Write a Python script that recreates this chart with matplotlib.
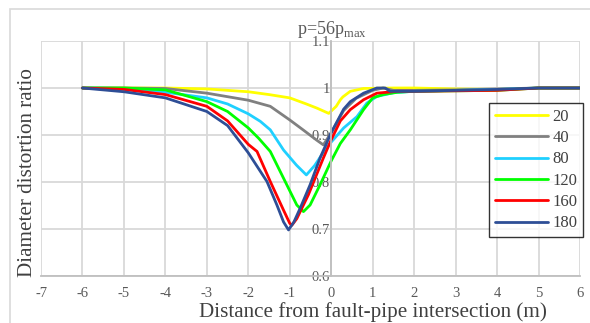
import matplotlib
matplotlib.use("Agg")
import matplotlib.pyplot as plt
from matplotlib.patches import Rectangle

plt.rcParams['font.family'] = ['Liberation Serif', 'DejaVu Serif']
plt.rcParams['mathtext.fontset'] = 'custom'
plt.rcParams['mathtext.rm'] = 'Liberation Serif'

title_text = "p=56p$_{\\mathregular{max}}$"
x_label = "Distance from fault-pipe intersection (m)"
y_label = "Diameter distortion ratio"
x_ticks = [-7, -6, -5, -4, -3, -2, -1, 0, 1, 2, 3, 4, 5, 6]
y_ticks = [0.6, 0.7, 0.8, 0.9, 1.0, 1.1]
y_tick_labels = ["0.6", "0.7", "0.8", "0.9", "1", "1.1"]

labels = ["20", "40", "80", "120", "160", "180"]
colors = ["#FFFF00", "#808080", "#1FD0FF", "#00FF00", "#FF0000", "#2E4E96"]

x20 = [-6, -5, -4, -3, -2, -1.5, -1, -0.6, -0.34, -0.06, 0.12, 0.22, 0.28, 0.46, 0.78, 1.5, 2, 3, 4, 5, 6]
y20 = [1.0, 1.0, 1.0, 0.998, 0.992, 0.986, 0.979, 0.966, 0.957, 0.946, 0.961, 0.975, 0.981, 0.993, 0.999, 1.0, 1.0, 0.998, 0.997, 1.0, 1.0]

x40 = [-6, -5, -4, -3, -2, -1.47, -1, -0.68, -0.35, -0.19, 0, 0.3, 0.6, 1.0, 1.25, 1.5, 2, 3, 4, 5, 6]
y40 = [1.0, 1.0, 0.999, 0.989, 0.974, 0.961, 0.932, 0.911, 0.889, 0.879, 0.905, 0.952, 0.978, 0.995, 1.0, 0.995, 0.995, 0.996, 0.998, 1.0, 1.0]

x80 = [-6, -5, -4, -3, -2.5, -2, -1.71, -1.47, -1.15, -0.84, -0.6, -0.4, -0.1, 0.3, 0.62, 0.86, 1.1, 1.5, 2, 3, 4, 5, 6]
y80 = [1.0, 0.999, 0.991, 0.979, 0.966, 0.945, 0.929, 0.911, 0.868, 0.836, 0.815, 0.835, 0.875, 0.915, 0.939, 0.968, 0.982, 0.99, 0.993, 0.995, 0.997, 1.0, 1.0]

x120 = [-6, -5, -4, -3, -2.5, -2, -1.75, -1.47, -1.15, -0.83, -0.67, -0.51, -0.27, 0, 0.22, 0.46, 0.78, 1.0, 1.25, 1.6, 2, 3, 4, 5, 6]
y120 = [1.0, 1.0, 0.996, 0.971, 0.95, 0.915, 0.893, 0.865, 0.808, 0.751, 0.737, 0.751, 0.794, 0.845, 0.882, 0.911, 0.954, 0.979, 0.986, 0.991, 0.993, 0.994, 0.995, 1.0, 1.0]

x160 = [-6, -5, -4, -3, -2.5, -2, -1.79, -1.47, -1.15, -1.0, -0.95, -0.83, -0.55, -0.19, 0, 0.22, 0.46, 0.78, 1.1, 1.6, 2, 3, 4, 5, 6]
y160 = [1.0, 0.997, 0.986, 0.961, 0.93, 0.88, 0.865, 0.801, 0.74, 0.712, 0.708, 0.722, 0.773, 0.851, 0.89, 0.93, 0.954, 0.975, 0.989, 0.993, 0.993, 0.994, 0.995, 1.0, 1.0]

x180 = [-6, -5, -4, -3, -2.5, -2, -1.55, -1.31, -1.15, -1.03, -0.9, -0.75, -0.51, -0.27, 0, 0.3, 0.46, 0.78, 1.1, 1.3, 1.42, 2, 3, 4, 5, 6]
y180 = [1.0, 0.992, 0.979, 0.95, 0.92, 0.862, 0.801, 0.751, 0.715, 0.698, 0.715, 0.744, 0.794, 0.851, 0.905, 0.955, 0.971, 0.989, 1.0, 1.0, 0.993, 0.993, 0.995, 0.997, 1.0, 1.0]

series_x = [x20, x40, x80, x120, x160, x180]
series_y = [y20, y40, y80, y120, y160, y180]

W, H = 590, 323
fig = plt.figure(figsize=(W / 100, H / 100), dpi=100)
fig.patch.set_facecolor("white")

# outer chart frame
fig.patches.append(Rectangle((10 / W, -0.05), 1.0, (H - 9) / H + 0.05, transform=fig.transFigure,
                             fill=False, edgecolor="#D9D9D9", linewidth=1.2))

left, right, top, bottom = 41, 580, 41, 276
ax = fig.add_axes([left / W, (H - bottom) / H, (right - left) / W, (bottom - top) / H])

ax.set_xlim(-7, 6)
ax.set_ylim(0.6, 1.1)
ax.set_xticks(x_ticks)
ax.set_xticklabels([str(t) for t in x_ticks])
ax.set_yticks(y_ticks)
ax.set_yticklabels(y_tick_labels)
ax.grid(True, color="#D9D9D9", linewidth=1.3)
ax.set_axisbelow(True)

for s in ["top", "right"]:
    ax.spines[s].set_visible(False)
ax.spines["left"].set_position(("data", 0))
ax.spines["left"].set_color("#BFBFBF")
ax.spines["left"].set_linewidth(1.3)
ax.spines["bottom"].set_color("#BFBFBF")
ax.spines["bottom"].set_linewidth(1.3)
ax.tick_params(axis="both", length=0, labelsize=10.5, labelcolor="#595959")
ax.tick_params(axis="x", pad=8)
ax.tick_params(axis="y", pad=1)

for xs, ys, c, lab in zip(series_x, series_y, colors, labels):
    ax.plot(xs, ys, color=c, linewidth=2.0, label=lab, solid_capstyle="round", solid_joinstyle="round")

for lbl in ax.get_yticklabels():
    lbl.set_zorder(5)

leg = ax.legend(loc="upper left", bbox_to_anchor=((489 - left) / (right - left), 1 - (103 - top) / (bottom - top)),
                frameon=True, fancybox=False, fontsize=12, handlelength=3.2, handletextpad=0.25,
                labelspacing=0.32, borderpad=0.35, borderaxespad=0)
leg.get_frame().set_edgecolor("black")
leg.get_frame().set_linewidth(1.0)
for t in leg.get_texts():
    t.set_color("#404040")

fig.text(332 / W, 1 - 30 / H, title_text, ha="center", va="center", fontsize=13, color="#595959")
fig.text(373 / W, 1 - 312 / H, x_label, ha="center", va="center", fontsize=15.2, color="#404040")
fig.text(28 / W, 1 - 173 / H, y_label, ha="center", va="center", fontsize=15.2, color="#404040", rotation=90)

fig.savefig("out.png", dpi=100)
